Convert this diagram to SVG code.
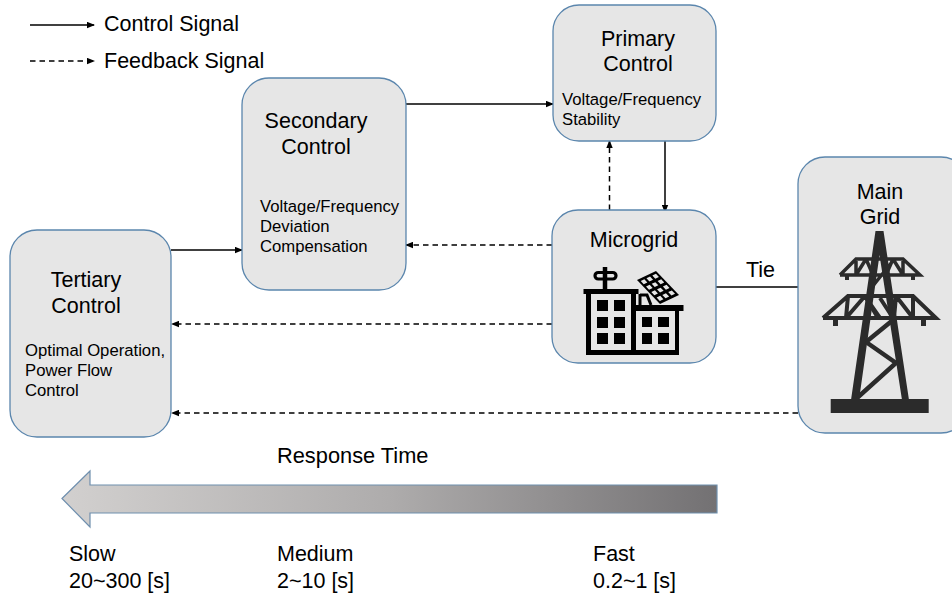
<svg xmlns="http://www.w3.org/2000/svg" width="952" height="599" viewBox="0 0 952 599">
<style>
text{font-family:"Liberation Sans",Arial,sans-serif;fill:#000}
.t{font-size:21.500px;text-anchor:middle}
.s{font-size:16.700px}
.l{font-size:21.500px}
.b{fill:#e6e6e6;stroke:#5b86ad;stroke-width:1.300}
.c{fill:none;stroke:#000;stroke-width:1.500;marker-end:url(#a)}
.d{fill:none;stroke:#000;stroke-width:1.500;stroke-dasharray:5.500 4;marker-end:url(#a)}
.w{fill:#000}
.tw{fill:none;stroke:#2b2b2b}
</style>
<defs>
<marker id="a" markerUnits="userSpaceOnUse" markerWidth="8" markerHeight="7" refX="7" refY="3.500" orient="auto"><path d="M0 0.300L8 3.500L0 6.700z" fill="#000"/></marker>
<linearGradient id="g" x1="0" x2="1" y1="0" y2="0"><stop offset="0" stop-color="#d2d0cf"/><stop offset="0.5" stop-color="#aeacac"/><stop offset="1" stop-color="#737173"/></linearGradient>
</defs>
<g id="connectors">
<path class="c" d="M30 25H94"/>
<path class="d" d="M30 61H94"/>
<path class="c" d="M406 104H553"/>
<path class="c" d="M665 141V212"/>
<path class="d" d="M609.500 210V141"/>
<path class="d" d="M552 245H406"/>
<path class="d" d="M552 324H172"/>
<path class="d" d="M798 413H172"/>
<path class="c" d="M171 250H242"/>
<path d="M716 287H798" fill="none" stroke="#000" stroke-width="1.500"/>
</g>
<g id="legend">
<text class="l" x="104" y="30.500">Control Signal</text>
<text class="l" x="104" y="67.500">Feedback Signal</text>
</g>
<g id="primary">
<rect class="b" x="553" y="5" width="163" height="136" rx="26"/>
<text class="t" x="638" y="45.500">Primary</text>
<text class="t" x="638" y="71">Control</text>
<text class="s" x="562" y="105">Voltage/Frequency</text>
<text class="s" x="562" y="124.500">Stability</text>
</g>
<g id="secondary">
<rect class="b" x="242" y="78" width="164" height="212" rx="27"/>
<text class="t" x="316" y="128">Secondary</text>
<text class="t" x="316" y="153.500">Control</text>
<text class="s" x="260" y="212">Voltage/Frequency</text>
<text class="s" x="260" y="232">Deviation</text>
<text class="s" x="260" y="251.500">Compensation</text>
</g>
<g id="tertiary">
<rect class="b" x="10" y="230" width="161" height="207" rx="27"/>
<text class="t" x="86" y="287">Tertiary</text>
<text class="t" x="86" y="313">Control</text>
<text class="s" x="25" y="355.500">Optimal Operation,</text>
<text class="s" x="25" y="375.500">Power Flow</text>
<text class="s" x="25" y="395.500">Control</text>
</g>
<g id="microgrid">
<rect class="b" x="552" y="210" width="164" height="153" rx="26"/>
<text class="t" x="634" y="247">Microgrid</text>
<path class="w" d="M583.500 289H638.500V294H636V305H683.500V311H679V355H586V294H583.500zM591 294V350H631V294zM636 311V350H675V311z"/>
<path class="w" d="M597 300h11v11h-11zM614 300h11v11h-11zM597 317h11v11h-11zM614 317h11v11h-11zM597 333h11v11h-11zM614 333h11v11h-11zM642 317h10v10h-10zM658 317h11v10h-11zM642 333h10v11h-10zM658 333h11v11h-11z"/>
<path d="M605 267V289" fill="none" stroke="#000" stroke-width="4.500"/>
<rect x="595" y="272.500" width="21" height="6.500" rx="3.200" fill="none" stroke="#000" stroke-width="3.200"/>
<g transform="matrix(19 -9 23 24 637 280)">
<path d="M0 0H1V1H0z" fill="#000"/>
<path fill="#e6e6e6" d="M.1 .08h.19v.13h-.19zM.4 .08h.19v.13h-.19zM.71 .08h.19v.13h-.19zM.1 .31h.19v.13h-.19zM.4 .31h.19v.13h-.19zM.71 .31h.19v.13h-.19zM.1 .54h.19v.13h-.19zM.4 .54h.19v.13h-.19zM.71 .54h.19v.13h-.19zM.1 .77h.19v.14h-.19zM.4 .77h.19v.14h-.19zM.71 .77h.19v.14h-.19z"/>
</g>
<path d="M640 294V305M640 295H647L651 305" fill="none" stroke="#000" stroke-width="3"/>
</g>
<g id="main-grid">
<rect class="b" x="798" y="157" width="170" height="276" rx="27"/>
<text class="t" x="880" y="198.500">Main</text>
<text class="t" x="880" y="223.500">Grid</text>
<path d="M875.500 231H883.500L909 400H902L879.500 255L859 400H851z" fill="#2b2b2b"/>
<rect x="830.700" y="399" width="98" height="14" fill="#2b2b2b"/>
<path class="tw" stroke-width="3.500" d="M840 275H920L903 259H856L840 275M856 275V261M856 275L866 259M866 259L873 275M903 275V261M903 275L893 259M893 259L886 275M872 287L892 262"/>
<path class="tw" stroke-width="4" d="M823 318H936L913 296H848L823 318M846 318L848 296M846 318L865 296M865 296L878 318M894 318L896 296M896 296L913 318M913 318V296M880 318L866 298M893 318L880 298"/>
<path d="M866 342L896 363L857 398M866 342L893 320" fill="none" stroke="#2b2b2b" stroke-width="4.500"/>
<path d="M833 318h5v8h-5zM921 318h5v8h-5zM845 275h4v5h-4zM911 275h4v5h-4z" fill="#2b2b2b"/>
</g>
<g id="response-arrow">
<path d="M62 498.500L90 471V485H717V513H90V527z" fill="url(#g)" stroke="#6f8fae" stroke-width="1.200"/>
</g>
<g id="labels">
<text class="l" x="746" y="276.500">Tie</text>
<text x="277" y="462.500" font-size="21.800">Response Time</text>
<text class="l" x="69" y="560.500">Slow</text>
<text class="l" x="69" y="587.500">20~300 [s]</text>
<text class="l" x="277" y="560.500">Medium</text>
<text class="l" x="277" y="587.500">2~10 [s]</text>
<text class="l" x="593" y="560.500">Fast</text>
<text class="l" x="593" y="587.500">0.2~1 [s]</text>
</g>
</svg>
